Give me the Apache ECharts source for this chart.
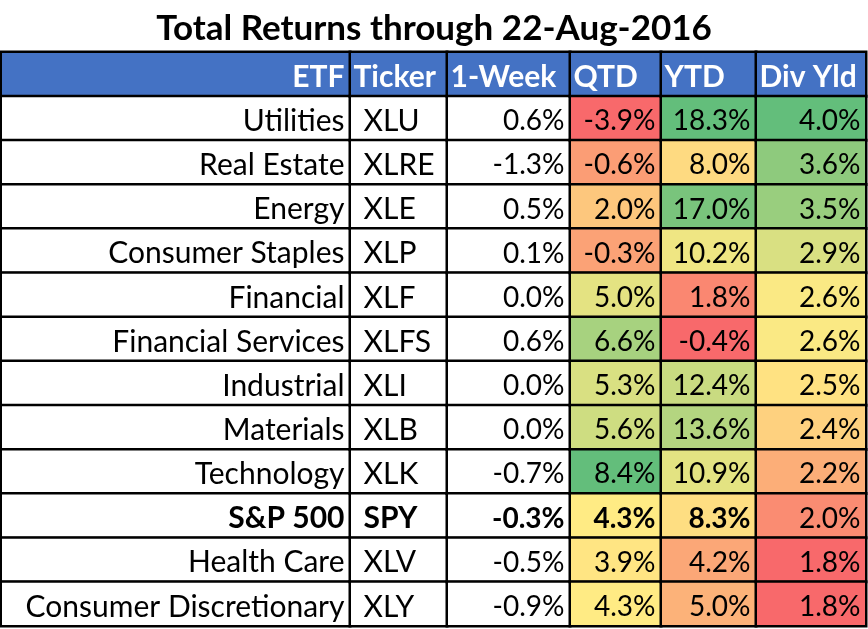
<!DOCTYPE html>
<html>
<head>
<meta charset="utf-8">
<script src="https://cdn.jsdelivr.net/npm/echarts@6/dist/echarts.min.js"></script>
<style>
  html, body { margin: 0; padding: 0; background: #fff; }
  #chart { width: 868px; height: 629px; }
</style>
</head>
<body>
<div id="chart"></div>
<script>
// table content
const headers = ['ETF', 'Ticker', '1-Week', 'QTD', 'YTD', 'Div Yld'];
const etfNames = ['Utilities', 'Real Estate', 'Energy', 'Consumer Staples', 'Financial',
  'Financial Services', 'Industrial', 'Materials', 'Technology', 'S&P 500',
  'Health Care', 'Consumer Discretionary'];
const tickers = ['XLU', 'XLRE', 'XLE', 'XLP', 'XLF', 'XLFS', 'XLI', 'XLB', 'XLK', 'SPY', 'XLV', 'XLY'];
const week1 = [0.6, -1.3, 0.5, 0.1, 0.0, 0.6, 0.0, 0.0, -0.7, -0.3, -0.5, -0.9];
const qtd = [-3.9, -0.6, 2.0, -0.3, 5.0, 6.6, 5.3, 5.6, 8.4, 4.3, 3.9, 4.3];
const ytd = [18.3, 8.0, 17.0, 10.2, 1.8, -0.4, 12.4, 13.6, 10.9, 8.3, 4.2, 5.0];
const divYld = [4.0, 3.6, 3.5, 2.9, 2.6, 2.6, 2.5, 2.4, 2.2, 2.0, 1.8, 1.8];
const boldRow = 9; // S&P 500

const FONT = 'Lato';
const RED = '#F8696B', YELLOW = '#FFEB84', GREEN = '#63BE7B', BLUE = '#4472C4';

// excel style 3 colour scale: min red, median yellow, max green
const scaleColors = (vals) => {
    const s = vals.slice().sort((a, b) => a - b);
    const mid = s.length % 2 ? s[(s.length - 1) / 2] : (s[s.length / 2 - 1] + s[s.length / 2]) / 2;
    const lo = s[0], hi = s[s.length - 1];
    return vals.map(v => {
        if (v <= mid) {
            return echarts.color.lerp(mid === lo ? 1 : (v - lo) / (mid - lo), [RED, YELLOW]);
        }
        return echarts.color.lerp((v - mid) / (hi - mid), [YELLOW, GREEN]);
    });
};

const pct = v => v.toFixed(1) + '%';

// column edges in px
const edges = [1, 350, 447, 570, 661, 756, 866];

const columns = [
    { texts: etfNames, colors: null, align: 'right', dist: 7, size: 30, boldLast: true },
    { texts: tickers, colors: null, align: 'left', dist: 15, size: 30, boldLast: true },
    { texts: week1.map(pct), colors: null, align: 'right', dist: 7, size: 28, boldLast: true },
    { texts: qtd.map(pct), colors: scaleColors(qtd), align: 'right', dist: 7, size: 28, boldLast: true },
    { texts: ytd.map(pct), colors: scaleColors(ytd), align: 'right', dist: 7, size: 28, boldLast: true },
    { texts: divYld.map(pct), colors: scaleColors(divYld), align: 'right', dist: 7, size: 28, boldLast: false }
];

const rowCats = ['head'].concat(etfNames);

const grid = [], xAxis = [], yAxis = [], series = [];
columns.forEach((col, i) => {
    grid.push({ left: edges[i], width: edges[i + 1] - edges[i], top: 52, height: 574 });
    xAxis.push({ type: 'category', gridIndex: i, data: [headers[i]], show: false });
    yAxis.push({ type: 'category', gridIndex: i, data: rowCats, inverse: true, show: false });

    const data = [{
        value: [0, 0, 0],
        txt: headers[i],
        itemStyle: { color: BLUE },
        label: {
            color: '#fff',
            fontWeight: 'bold',
            fontSize: 30,
            position: i === 0 ? 'insideRight' : 'insideLeft',
            distance: i === 0 ? 7 : 5
        }
    }];
    col.texts.forEach((t, r) => {
        const bold = r === boldRow && col.boldLast;
        data.push({
            value: [0, r + 1, 0],
            txt: t,
            itemStyle: { color: col.colors ? col.colors[r] : '#fff' },
            label: { fontWeight: bold ? 'bold' : 'normal', fontSize: col.size, fontFamily: FONT }
        });
    });

    series.push({
        type: 'heatmap',
        xAxisIndex: i,
        yAxisIndex: i,
        data: data,
        itemStyle: { borderColor: '#000', borderWidth: 2.5 },
        label: {
            show: true,
            position: col.align === 'right' ? 'insideRight' : 'insideLeft',
            distance: col.dist,
            offset: [0, 3],
            fontFamily: FONT,
            fontSize: col.size,
            color: '#000',
            formatter: p => p.data.txt
        },
        emphasis: { disabled: true },
        animation: false
    });
});

const chart = echarts.init(document.getElementById('chart'));
chart.setOption({
    backgroundColor: '#fff',
    animation: false,
    title: {
        text: 'Total Returns through 22-Aug-2016',
        left: 'center',
        top: 6,
        textStyle: { fontFamily: FONT, fontSize: 35, fontWeight: 'bold', color: '#000' }
    },
    grid: grid,
    xAxis: xAxis,
    yAxis: yAxis,
    series: series
});
</script>
</body>
</html>
